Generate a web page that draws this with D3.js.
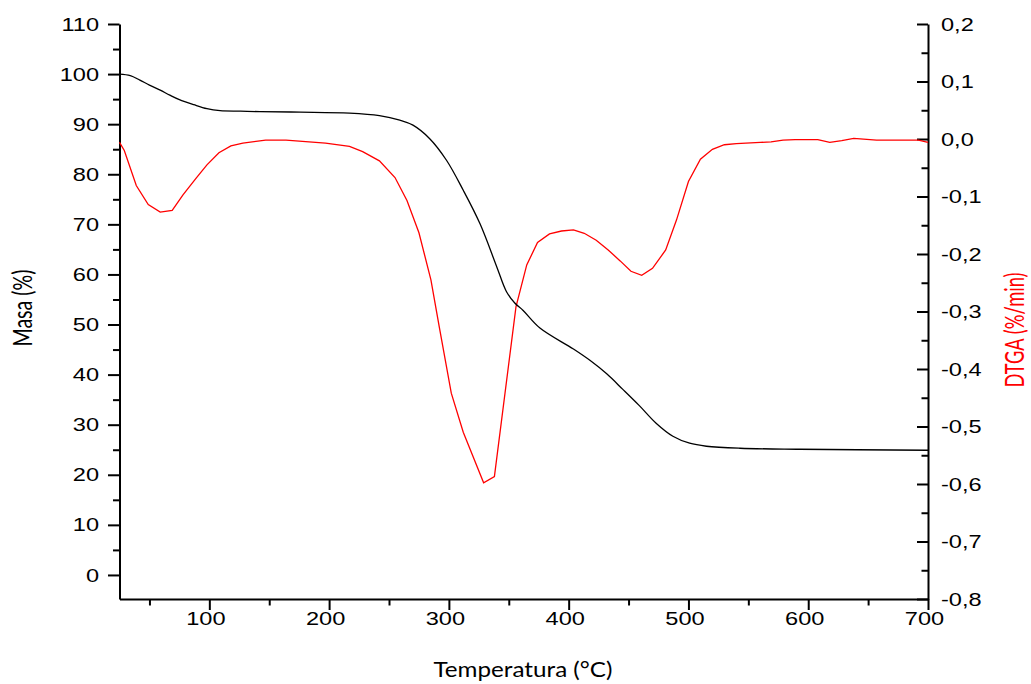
<!DOCTYPE html>
<html>
<head>
<meta charset="utf-8">
<script src="https://cdn.jsdelivr.net/npm/d3@7"></script>
<style>
  body { margin: 0; background: #fff; }
  .axis path, .axis line { stroke: #000; stroke-width: 2; }
  .axis text { font-family: "Liberation Sans", Arial, sans-serif; font-size: 19px; fill: #000; }
  .label { font-family: Lato, "Open Sans", sans-serif; font-size: 21px; }
  .line { fill: none; stroke-width: 1.3; }
</style>
</head>
<body>
<div id="chart"></div>
<script>
// mass loss curve (TGA)
const masaTemp = [25, 34, 42, 50, 59, 67, 75, 87, 98, 109, 126, 142, 176, 217, 242, 259, 270, 284, 298, 312,
  326, 340, 348, 355, 362, 376, 404, 418, 432, 445, 459, 473, 487, 501, 515, 543, 593, 700];
const masaValues = [100.0, 99.7, 98.8, 97.8, 96.8, 95.8, 94.9, 93.9, 93.1, 92.7, 92.6, 92.5, 92.4, 92.2, 91.7,
  90.8, 89.8, 87.1, 82.8, 76.8, 70.1, 61.5, 56.6, 54.3, 52.8, 49.3, 45.1, 42.8, 40.1, 37.1, 33.8, 30.3, 27.7,
  26.3, 25.7, 25.3, 25.1, 24.9];

// derivative curve (DTGA)
const dtgaTemp = [25, 29, 39, 49, 59, 69, 78, 89, 98, 108, 118, 128, 147, 164, 197, 217, 228, 242, 255, 265,
  275, 285, 292, 302, 312, 329, 338, 356, 365, 374, 384, 394, 404, 413, 423, 433, 443, 452, 461, 470, 481,
  490, 500, 510, 520, 530, 540, 560, 569, 579, 589, 608, 618, 628, 638, 657, 692, 700];
const dtgaValues = [-0.006, -0.020, -0.081, -0.114, -0.127, -0.124, -0.097, -0.068, -0.045, -0.024, -0.012,
  -0.007, -0.002, -0.002, -0.007, -0.013, -0.022, -0.038, -0.067, -0.107, -0.163, -0.245, -0.327, -0.442,
  -0.510, -0.598, -0.587, -0.292, -0.219, -0.180, -0.165, -0.160, -0.158, -0.164, -0.176, -0.193, -0.212,
  -0.230, -0.237, -0.225, -0.193, -0.141, -0.074, -0.035, -0.018, -0.010, -0.008, -0.006, -0.005, -0.002,
  -0.001, -0.001, -0.006, -0.003, 0.001, -0.002, -0.002, -0.006];

const xTicks = [100, 200, 300, 400, 500, 600, 700];
const xMinor = [50, 150, 250, 350, 450, 550, 650];
const masaTicks = [0, 10, 20, 30, 40, 50, 60, 70, 80, 90, 100, 110];
const masaMinor = [5, 15, 25, 35, 45, 55, 65, 75, 85, 95, 105];
const dtgaTicks = [-0.8, -0.7, -0.6, -0.5, -0.4, -0.3, -0.2, -0.1, 0.0, 0.1, 0.2];
const dtgaMinor = [-0.75, -0.65, -0.55, -0.45, -0.35, -0.25, -0.15, -0.05, 0.05, 0.15];

const width = 1031;
const height = 684;
const margin = { top: 24, right: 103, bottom: 85, left: 119.5 };
const stretchX = 1.24; // the reference text is drawn a little wide

const locale = d3.formatLocale({ decimal: ',', thousands: '.', grouping: [3], currency: ['', ''], minus: '-' });
const fmt1 = locale.format('.1f');

const x = d3.scaleLinear().domain([25, 700]).range([margin.left, width - margin.right]);
const yMasa = d3.scaleLinear().domain([-4.8, 110]).range([height - margin.bottom, margin.top]);
const yDtga = d3.scaleLinear().domain([-0.8, 0.2]).range([height - margin.bottom, margin.top]);

const svg = d3.select('#chart').append('svg')
    .attr('width', width)
    .attr('height', height);

function stretch(sel) {
  sel.each(function () {
    const w = this.getComputedTextLength();
    d3.select(this).attr('textLength', w * stretchX).attr('lengthAdjust', 'spacingAndGlyphs');
  });
}

// minor ticks
svg.append('g')
    .attr('class', 'axis')
    .attr('transform', `translate(0, ${height - margin.bottom})`)
    .call(d3.axisBottom(x).tickValues(xMinor).tickSize(6.5).tickFormat(''))
    .call(g => g.select('.domain').remove());

svg.append('g')
    .attr('class', 'axis')
    .attr('transform', `translate(${margin.left}, 0)`)
    .call(d3.axisLeft(yMasa).tickValues(masaMinor).tickSize(6.5).tickFormat(''))
    .call(g => g.select('.domain').remove());

svg.append('g')
    .attr('class', 'axis')
    .attr('transform', `translate(${width - margin.right}, 0)`)
    .call(d3.axisRight(yDtga).tickValues(dtgaMinor).tickSize(-6.5).tickFormat(''))
    .call(g => g.select('.domain').remove());

// xAxis
svg.append('g')
    .attr('class', 'axis')
    .attr('transform', `translate(0, ${height - margin.bottom})`)
    .call(d3.axisBottom(x).tickValues(xTicks).tickSize(11).tickSizeOuter(0).tickPadding(2))
    .call(g => g.selectAll('text').attr('x', -4).call(stretch));

// left axis
svg.append('g')
    .attr('class', 'axis')
    .attr('transform', `translate(${margin.left}, 0)`)
    .call(d3.axisLeft(yMasa).tickValues(masaTicks).tickSize(11.5).tickSizeOuter(0).tickPadding(9))
    .call(g => g.selectAll('text').call(stretch));

// right axis
svg.append('g')
    .attr('class', 'axis')
    .attr('transform', `translate(${width - margin.right}, 0)`)
    .call(d3.axisRight(yDtga).tickValues(dtgaTicks).tickSize(-11).tickSizeOuter(0).tickPadding(13)
      .tickFormat(fmt1))
    .call(g => g.selectAll('text').call(stretch));

// lines
const masaLine = d3.line()
    .curve(d3.curveCatmullRom.alpha(0.5))
    .x((d, i) => x(masaTemp[i]))
    .y(d => yMasa(d));

const dtgaLine = d3.line()
    .x((d, i) => x(dtgaTemp[i]))
    .y(d => yDtga(d));

svg.append('path')
    .datum(dtgaValues)
    .attr('class', 'line')
    .attr('stroke', '#ff0000')
    .attr('d', dtgaLine);

svg.append('path')
    .datum(masaValues)
    .attr('class', 'line')
    .attr('stroke', '#000')
    .attr('d', masaLine);

// axis labels
svg.append('text')
    .attr('class', 'label')
    .attr('text-anchor', 'middle')
    .attr('x', 523)
    .attr('y', 677)
    .attr('textLength', 179)
    .attr('lengthAdjust', 'spacingAndGlyphs')
    .text('Temperatura (°C)');

svg.append('text')
    .attr('class', 'label')
    .attr('text-anchor', 'middle')
    .attr('transform', `translate(32, 308) scale(${stretchX}, 1) rotate(-90)`)
    .attr('textLength', 77)
    .attr('lengthAdjust', 'spacingAndGlyphs')
    .text('Masa (%)');

svg.append('text')
    .attr('class', 'label')
    .attr('text-anchor', 'middle')
    .attr('fill', '#ff0000')
    .attr('transform', `translate(1024, 330) scale(${stretchX}, 1) rotate(-90)`)
    .attr('textLength', 115)
    .attr('lengthAdjust', 'spacingAndGlyphs')
    .text('DTGA (%/min)');
</script>
</body>
</html>
